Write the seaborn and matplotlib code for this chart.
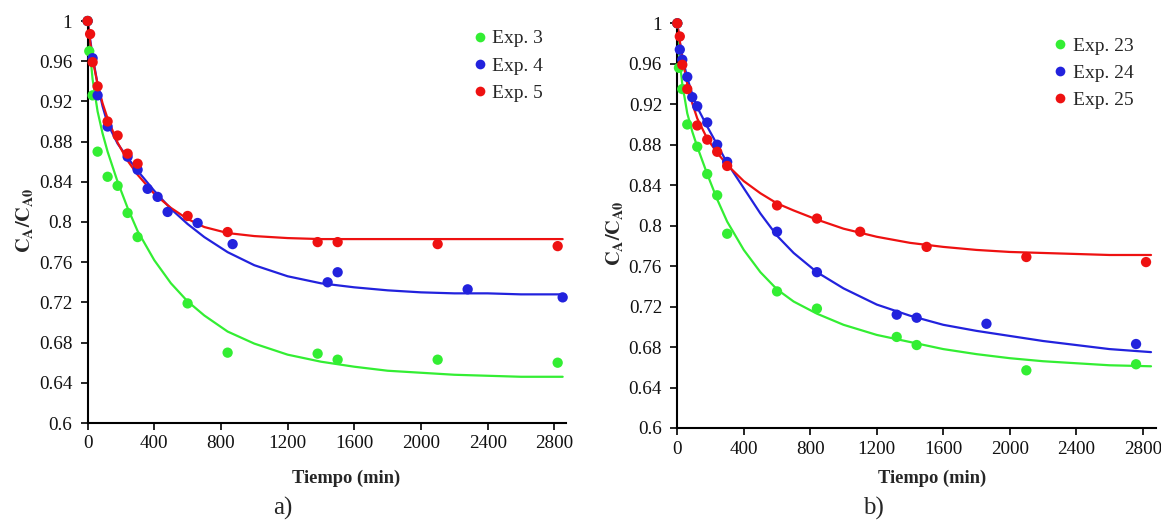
import matplotlib
matplotlib.use("Agg")
import matplotlib.pyplot as plt
import seaborn as sns
import pandas as pd
from matplotlib.lines import Line2D

# ---------------- data: panel a) ----------------
exp3_t = [0, 10, 30, 60, 120, 180, 240, 300, 600, 840, 1380, 1500, 2100, 2820]
exp3_y = [1.0, 0.970, 0.926, 0.870, 0.845, 0.836, 0.809, 0.785, 0.719, 0.670, 0.669, 0.663, 0.663, 0.660]
exp4_t = [0, 30, 60, 120, 240, 300, 360, 420, 480, 660, 870, 1440, 1500, 2280, 2850]
exp4_y = [1.0, 0.963, 0.926, 0.895, 0.865, 0.852, 0.833, 0.825, 0.810, 0.799, 0.778, 0.740, 0.750, 0.733, 0.725]
exp5_t = [0, 15, 30, 60, 120, 180, 240, 300, 600, 840, 1380, 1500, 2100, 2820]
exp5_y = [1.0, 0.987, 0.959, 0.935, 0.900, 0.886, 0.868, 0.858, 0.806, 0.790, 0.780, 0.780, 0.778, 0.776]

# ---------------- data: panel b) ----------------
exp23_t = [0, 10, 30, 60, 120, 180, 240, 300, 600, 840, 1320, 1440, 2100, 2760]
exp23_y = [1.0, 0.956, 0.935, 0.900, 0.878, 0.851, 0.830, 0.792, 0.735, 0.718, 0.690, 0.682, 0.657, 0.663]
exp24_t = [0, 15, 30, 60, 90, 120, 180, 240, 300, 600, 840, 1320, 1440, 1860, 2760]
exp24_y = [1.0, 0.974, 0.964, 0.947, 0.927, 0.918, 0.902, 0.880, 0.863, 0.794, 0.754, 0.712, 0.709, 0.703, 0.683]
exp25_t = [0, 15, 30, 60, 120, 180, 240, 300, 600, 840, 1100, 1500, 2100, 2820]
exp25_y = [1.0, 0.987, 0.959, 0.935, 0.899, 0.885, 0.873, 0.859, 0.820, 0.807, 0.794, 0.779, 0.769, 0.764]

# ---------------- fitted curves ----------------
fit_t = [0, 15, 30, 60, 90, 120, 180, 240, 300, 400, 500, 600, 700, 840, 1000,
         1200, 1400, 1600, 1800, 2000, 2200, 2400, 2600, 2850]
fit3 = [1.0, 0.968, 0.942, 0.910, 0.888, 0.870, 0.840, 0.814, 0.791, 0.762, 0.739, 0.721,
        0.707, 0.691, 0.679, 0.668, 0.661, 0.656, 0.652, 0.650, 0.648, 0.647, 0.646, 0.646]
fit4 = [1.0, 0.982, 0.965, 0.937, 0.915, 0.898, 0.878, 0.864, 0.851, 0.831, 0.813, 0.798,
        0.785, 0.770, 0.757, 0.746, 0.739, 0.735, 0.732, 0.730, 0.729, 0.729, 0.728, 0.728]
fit5 = [1.0, 0.980, 0.962, 0.937, 0.918, 0.903, 0.879, 0.861, 0.847, 0.828, 0.814, 0.803,
        0.795, 0.789, 0.786, 0.784, 0.783, 0.783, 0.783, 0.783, 0.783, 0.783, 0.783, 0.783]
fit23 = [1.0, 0.962, 0.940, 0.911, 0.893, 0.878, 0.851, 0.826, 0.804, 0.776, 0.754, 0.737,
         0.725, 0.713, 0.702, 0.692, 0.685, 0.678, 0.673, 0.669, 0.666, 0.664, 0.662, 0.661]
fit24 = [1.0, 0.982, 0.967, 0.946, 0.930, 0.917, 0.898, 0.880, 0.862, 0.837, 0.812, 0.790,
         0.773, 0.754, 0.738, 0.722, 0.711, 0.702, 0.696, 0.691, 0.686, 0.682, 0.678, 0.675]
fit25 = [1.0, 0.982, 0.965, 0.940, 0.921, 0.906, 0.886, 0.872, 0.860, 0.844, 0.832, 0.822,
         0.815, 0.806, 0.797, 0.789, 0.783, 0.779, 0.776, 0.774, 0.773, 0.772, 0.771, 0.771]

labels_a = ["Exp. 3", "Exp. 4", "Exp. 5"]
labels_b = ["Exp. 23", "Exp. 24", "Exp. 25"]
x_ticks = [0, 400, 800, 1200, 1600, 2000, 2400, 2800]
y_ticks = [0.6, 0.64, 0.68, 0.72, 0.76, 0.8, 0.84, 0.88, 0.92, 0.96, 1.0]
y_tick_labels = ["0.6", "0.64", "0.68", "0.72", "0.76", "0.8", "0.84", "0.88", "0.92", "0.96", "1"]
x_label = "Tiempo (min)"
y_label = r"$\mathbf{C_A/C_{A0}}$"

colors = ["#33ee33", "#2222dd", "#ee1111"]

sns.set_style("ticks")
plt.rcParams["font.family"] = ["Liberation Serif", "DejaVu Serif"]
plt.rcParams["mathtext.fontset"] = "stix"

fig = plt.figure(figsize=(11.61, 5.27), dpi=100)
W, H = 1161, 527
ax_a = fig.add_axes([87.6 / W, 1 - 423 / H, (566 - 87.6) / W, (423 - 21) / H])
ax_b = fig.add_axes([677.3 / W, 1 - 428 / H, (1156 - 677.3) / W, (428 - 23.3) / H])


def draw(ax, pts, fits, labels, xmax, xlab_xy, ylab_xy, leg_anchor):
    pdf = pd.concat([pd.DataFrame({"t": t, "y": y, "exp": lab}) for (t, y), lab in zip(pts, labels)])
    fdf = pd.concat([pd.DataFrame({"t": fit_t, "y": f, "exp": lab}) for f, lab in zip(fits, labels)])
    pal = dict(zip(labels, colors))
    sns.lineplot(data=fdf, x="t", y="y", hue="exp", palette=pal, ax=ax, linewidth=1.6,
                 legend=False, sort=False, estimator=None, zorder=2)
    sns.scatterplot(data=pdf, x="t", y="y", hue="exp", palette=pal, ax=ax, s=55,
                    edgecolor="none", legend=False, zorder=3, clip_on=False)
    ax.set_xlim(0, xmax)
    ax.set_ylim(0.6, 1.0)
    ax.set_xticks(x_ticks)
    ax.set_xticklabels([str(v) for v in x_ticks])
    ax.set_yticks(y_ticks)
    ax.set_yticklabels(y_tick_labels)
    ax.tick_params(axis="both", labelsize=13.8, direction="out", length=5, width=1.2,
                   color="black", labelcolor="#111111")
    ax.tick_params(axis="y", pad=6)
    ax.tick_params(axis="x", pad=4)
    for sp in ["top", "right"]:
        ax.spines[sp].set_visible(False)
    for sp in ["left", "bottom"]:
        ax.spines[sp].set_linewidth(1.5)
        ax.spines[sp].set_color("black")
    ax.set_xlabel(x_label, fontsize=13.3, fontweight="bold")
    ax.xaxis.set_label_coords(*xlab_xy)
    ax.set_ylabel(y_label, fontsize=14.5)
    ax.yaxis.set_label_coords(*ylab_xy)
    handles = [Line2D([], [], marker="o", linestyle="none", markersize=7,
                      markerfacecolor=c, markeredgecolor="none") for c in colors]
    ax.legend(handles, labels, loc="upper right", bbox_to_anchor=leg_anchor, frameon=False,
              fontsize=14, handletextpad=0.05, labelspacing=0.5, handlelength=1.2,
              borderaxespad=0.3)


draw(ax_a, [(exp3_t, exp3_y), (exp4_t, exp4_y), (exp5_t, exp5_y)],
     [fit3, fit4, fit5], labels_a, 2870, (0.54, -0.117), (-0.11, 0.505), (0.981, 1.012))
draw(ax_b, [(exp23_t, exp23_y), (exp24_t, exp24_y), (exp25_t, exp25_y)],
     [fit23, fit24, fit25], labels_b, 2880, (0.532, -0.104), (-0.11, 0.48), (0.981, 1.0))

fig.text(283 / W, 1 - 508 / H, "a)", fontsize=18, ha="center", va="center")
fig.text(873 / W, 1 - 508 / H, "b)", fontsize=18, ha="center", va="center")

fig.savefig("out.png", dpi=100)
